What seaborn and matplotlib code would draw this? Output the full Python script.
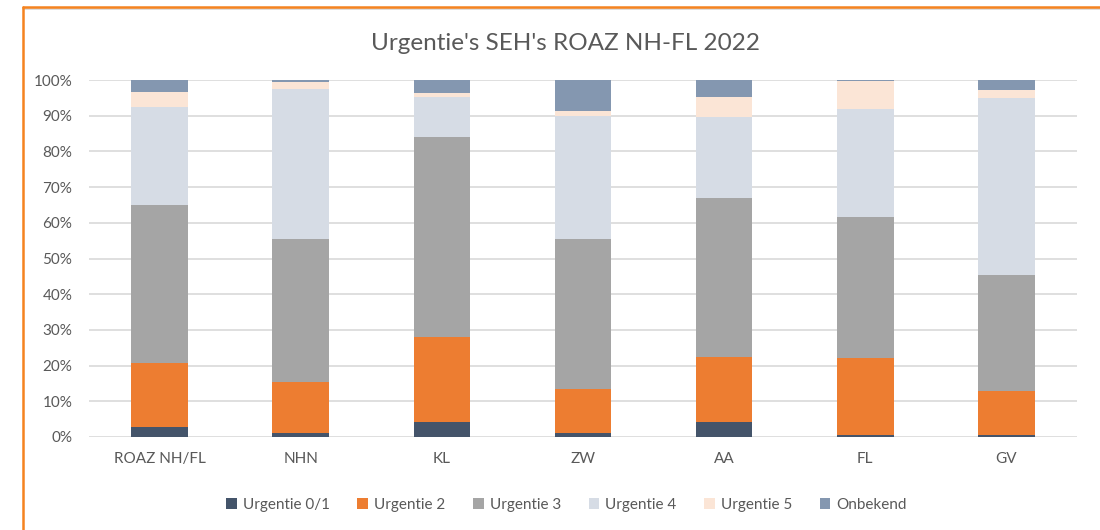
import numpy as np
import pandas as pd
import matplotlib
matplotlib.use("Agg")
import matplotlib.pyplot as plt
from matplotlib.lines import Line2D
from matplotlib.patches import Patch
import seaborn as sns

# Share of ED visits per urgency level, per hospital (percent)
categories = ["ROAZ NH/FL", "NHN", "KL", "ZW", "AA", "FL", "GV"]
series_names = ["Urgentie 0/1", "Urgentie 2", "Urgentie 3", "Urgentie 4", "Urgentie 5", "Onbekend"]
urgentie_01 = [2.9, 1.0, 4.3, 1.0, 4.3, 0.7, 0.7]
urgentie_2 = [17.8, 14.4, 23.7, 12.4, 18.0, 21.4, 12.2]
urgentie_3 = [44.4, 40.2, 56.0, 42.2, 44.7, 39.5, 32.4]
urgentie_4 = [27.4, 41.9, 11.3, 34.3, 22.6, 30.2, 49.7]
urgentie_5 = [4.0, 1.9, 1.1, 1.3, 5.7, 8.0, 2.2]
onbekend = [3.5, 0.6, 3.6, 8.8, 4.7, 0.2, 2.8]
y_ticks = [0, 10, 20, 30, 40, 50, 60, 70, 80, 90, 100]
y_tick_labels = [f"{t}%" for t in y_ticks]

colors = ["#44546A", "#ED7D31", "#A5A5A5", "#D6DCE5", "#FBE5D6", "#8497B0"]
text_color = "#595959"

sns.set_theme(style="white")
plt.rcParams["font.family"] = ["Lato", "DejaVu Sans"]

values = np.array([urgentie_01, urgentie_2, urgentie_3, urgentie_4, urgentie_5, onbekend])
cumulative = np.cumsum(values, axis=0)

fig = plt.figure(figsize=(11, 5.3), dpi=100)
ax = fig.add_axes([89 / 1100, 93 / 530, (1077 - 89) / 1100, (437 - 80) / 530])

# Stacked bars: draw cumulative totals from the top segment downwards
for i in range(len(series_names) - 1, -1, -1):
    df = pd.DataFrame({"cat": categories, "val": cumulative[i]})
    sns.barplot(data=df, x="cat", y="val", color=colors[i], width=0.4,
                saturation=1, linewidth=0, ax=ax, zorder=3)

ax.set_ylim(0, 100)
ax.set_xlim(-0.5, len(categories) - 0.5)
ax.set_yticks(y_ticks)
ax.set_yticklabels(y_tick_labels)
ax.yaxis.grid(True, color="#D9D9D9", linewidth=1.2, zorder=0)
ax.set_axisbelow(True)
for s in ax.spines.values():
    s.set_visible(False)
ax.set_xlabel("")
ax.set_ylabel("")
ax.tick_params(axis="both", length=0, labelsize=11, colors=text_color)
ax.tick_params(axis="y", pad=12)
ax.tick_params(axis="x", pad=11)

fig.text(0.514, 1 - 43 / 530, "Urgentie's SEH's ROAZ NH-FL 2022", ha="center", va="center",
         fontsize=17.5, color=text_color)

handles = [Patch(facecolor=c, edgecolor="none") for c in colors]
fig.legend(handles, series_names, loc="center", bbox_to_anchor=(0.515, 1 - 505 / 530),
           ncol=6, frameon=False, fontsize=11, labelcolor=text_color,
           handlelength=0.7, handleheight=0.7, handletextpad=0.4, columnspacing=1.8)

# Orange frame along the top and left edges
fig.add_artist(Line2D([23 / 1100, 1.0], [1 - 8 / 530, 1 - 8 / 530], transform=fig.transFigure,
                      color="#D9D9D9", linewidth=2.0))
fig.add_artist(Line2D([23 / 1100, 1.0], [1 - 7 / 530, 1 - 7 / 530], transform=fig.transFigure,
                      color="#F5831F", linewidth=1.8))
fig.add_artist(Line2D([23 / 1100, 23 / 1100], [0, 1 - 7 / 530], transform=fig.transFigure,
                      color="#F5831F", linewidth=1.8))

fig.savefig("out.png", dpi=100)
